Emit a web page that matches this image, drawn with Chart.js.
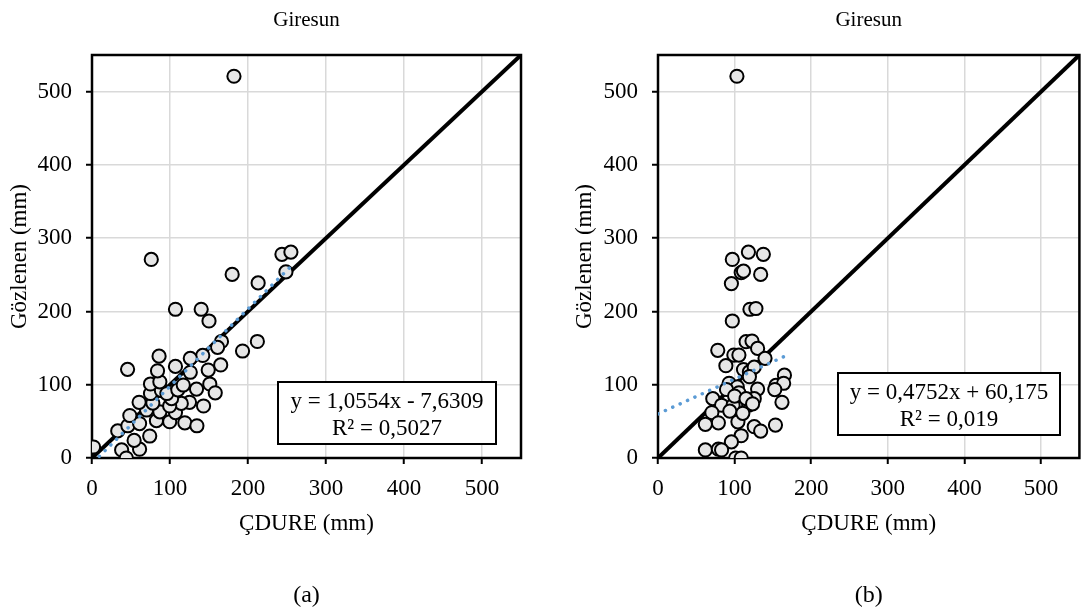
<!DOCTYPE html>
<html>
<head>
<meta charset="utf-8">
<script src="https://cdn.jsdelivr.net/npm/chart.js@4.4.1/dist/chart.umd.min.js"></script>
<style>
	html, body { margin: 0; padding: 0; background: #fff; }
	#wrap { position: relative; width: 1088px; height: 613px; overflow: hidden; }
	canvas { position: absolute; top: 0; }
	#panel-a { left: 0; }
	#panel-b { left: 544px; }
</style>
</head>
<body>
<div id="wrap">
	<canvas id="panel-a" width="544" height="613"></canvas>
	<canvas id="panel-b" width="544" height="613"></canvas>
</div>
<script>
// (a) ÇDURE vs observed
const cdureA = [2, 38, 44, 61, 54, 74, 33, 46, 61, 82.6, 99.6, 119, 134.5, 48.5, 70, 87, 107, 60.4, 78, 125,
	114.5, 143, 99.6, 75, 89, 102, 96, 110, 117, 134, 151, 158, 75, 87, 45.6, 84, 107, 126, 149, 165,
	86, 142, 126, 166, 161, 212, 193, 107, 140, 150, 179.7, 213, 243.5, 255, 248.6, 76, 182];
const gozlenenA = [15, 11, 0, 12, 24, 30, 37, 44, 47, 51, 49.5, 48, 44, 58, 65.5, 63, 62, 76, 75, 76,
	74.5, 71, 71, 88, 92, 81, 88, 93, 99.6, 94, 101, 89, 101, 104, 121, 119, 125, 117, 120, 127,
	139, 140, 136, 159, 151, 159, 146, 203, 203, 187, 250.6, 239, 278, 281, 254, 271, 521];

// (b)
const cdureB = [118, 137.5, 97, 108.6, 111.6, 134, 95.8, 120, 127.8, 97, 115, 122.7, 130, 78, 139.7, 99, 105.6,
	88.6, 111.6, 119.3, 125.6, 165, 119.3, 92.8, 103.5, 130, 154, 164, 152.4, 71.5, 83, 98, 118.4, 125.6,
	161.8, 70.3, 78.8, 61.8, 104.3, 125.6, 134, 153.3, 108.6, 95.8, 61.8, 78.8, 83, 101.4, 108.6, 89.4,
	105.6, 100, 115, 123.5, 93.7, 110.7, 103];
const gozlenenB = [281, 278, 271, 253, 255, 250.6, 238, 203, 204, 187, 158.7, 159.6, 149.6, 147, 136, 140.5, 140.5,
	126, 120.7, 117.5, 124, 113, 111, 102, 97, 94, 99, 102, 93.4, 81, 72, 72, 72, 81,
	76, 62, 48, 46, 49.4, 42.7, 36.8, 45, 30.4, 22, 11, 12, 11, 0, 0, 93.5,
	89, 84.5, 81, 74, 64, 61, 521];

// trendline end points (Excel linear fit) and 1:1 line
const trendAx = [2, 253];
const trendAy = [-5.5, 259.4];
const trendBx = [0, 166];
const trendBy = [60.2, 139.1];
const oneToOne = [0, 550];

const eqA = ['y = 1,0554x - 7,6309', 'R² = 0,5027'];
const eqB = ['y = 0,4752x + 60,175', 'R² = 0,019'];

const axisTicks = [0, 100, 200, 300, 400, 500];

const serif = 'Liberation Serif';
const toPoints = (xs, ys) => xs.map((x, i) => ({ x, y: ys[i] }));

const framePlugin = {
	id: 'frame',
	beforeDatasetsDraw(chart) {
		const { ctx, chartArea: a } = chart;
		ctx.save();
		ctx.strokeStyle = '#000';
		ctx.lineWidth = 2.5;
		ctx.strokeRect(a.left, a.top, a.right - a.left, a.bottom - a.top);
		ctx.restore();
	}
};

const eqBoxPlugin = {
	id: 'eqBox',
	afterDatasetsDraw(chart, args, opts) {
		const { ctx, chartArea: a } = chart;
		const x = a.left + opts.left, y = opts.top, w = opts.width, h = opts.height;
		ctx.save();
		ctx.fillStyle = '#fff';
		ctx.fillRect(x, y, w, h);
		ctx.strokeStyle = '#000';
		ctx.lineWidth = 2;
		ctx.strokeRect(x, y, w, h);
		ctx.fillStyle = '#000';
		ctx.font = `23px "${serif}"`;
		ctx.textAlign = 'center';
		ctx.textBaseline = 'middle';
		opts.lines.forEach((line, i) => ctx.fillText(line, x + w / 2, y + 20 + i * 27));
		ctx.restore();
	}
};

function makePanel(id, xs, ys, tx, ty, label, yAxisWidth, yTitlePad, rightPad, box) {
	return new Chart(document.getElementById(id), {
		type: 'scatter',
		data: {
			datasets: [
				{
					data: toPoints(tx, ty),
					showLine: true,
					borderColor: '#5b9bd5',
					borderWidth: 3.5,
					borderDash: [0.1, 8],
					borderCapStyle: 'round',
					pointRadius: 0,
					order: 0
				},
				{
					data: toPoints(xs, ys),
					backgroundColor: '#e6e6e6',
					borderColor: '#000',
					borderWidth: 2,
					pointRadius: 6.6,
					order: 1
				},
				{
					data: toPoints(oneToOne, oneToOne),
					showLine: true,
					borderColor: '#000',
					borderWidth: 4,
					pointRadius: 0,
					order: 2
				}
			]
		},
		options: {
			responsive: false,
			animation: false,
			layout: { padding: { left: 0, right: rightPad, top: 0, bottom: 0 } },
			plugins: {
				legend: { display: false },
				tooltip: { enabled: false },
				title: {
					display: true,
					text: 'Giresun',
					fullSize: false,
					color: '#000',
					font: { family: serif, size: 21, weight: 'normal', lineHeight: 1.2 },
					padding: { top: 7.4, bottom: 22.4 }
				},
				subtitle: {
					display: true,
					text: label,
					position: 'bottom',
					fullSize: false,
					color: '#000',
					font: { family: serif, size: 24, weight: 'normal', lineHeight: 1.2 },
					padding: { top: 0, bottom: 3 }
				},
				eqBox: box
			},
			scales: {
				x: {
					type: 'linear',
					min: 0,
					max: 550,
					afterBuildTicks: s => { s.ticks = axisTicks.map(v => ({ value: v })); },
					afterFit: s => { s.height = 123.2; },
					grid: { color: '#d9d9d9', lineWidth: 1.5, tickColor: '#000', tickLength: 6, tickWidth: 2 },
					border: { display: false },
					ticks: { color: '#000', padding: 11, font: { family: serif, size: 23 } },
					title: {
						display: true,
						text: 'ÇDURE (mm)',
						color: '#000',
						font: { family: serif, size: 23, lineHeight: 1.2 },
						padding: { top: 0, bottom: 43 }
					}
				},
				y: {
					type: 'linear',
					min: 0,
					max: 550,
					afterBuildTicks: s => { s.ticks = axisTicks.map(v => ({ value: v })); },
					afterFit: s => { s.width = yAxisWidth; },
					grid: { color: '#d9d9d9', lineWidth: 1.5, tickColor: '#000', tickLength: 6, tickWidth: 2 },
					border: { display: false },
					ticks: { color: '#000', padding: 14, font: { family: serif, size: 23 } },
					title: {
						display: true,
						text: 'Gözlenen (mm)',
						color: '#000',
						font: { family: serif, size: 23, lineHeight: 1.2 },
						padding: { top: yTitlePad, bottom: 0 }
					}
				}
			}
		},
		plugins: [framePlugin, eqBoxPlugin]
	});
}

makePanel('panel-a', cdureA, gozlenenA, trendAx, trendAy, '(a)', 92, 6.2, 23,
	{ lines: eqA, left: 186, top: 382, width: 218, height: 62 });
makePanel('panel-b', cdureB, gozlenenB, trendBx, trendBy, '(b)', 114, 27.2, 1,
	{ lines: eqB, left: 180, top: 373, width: 222, height: 62 });
</script>
</body>
</html>
